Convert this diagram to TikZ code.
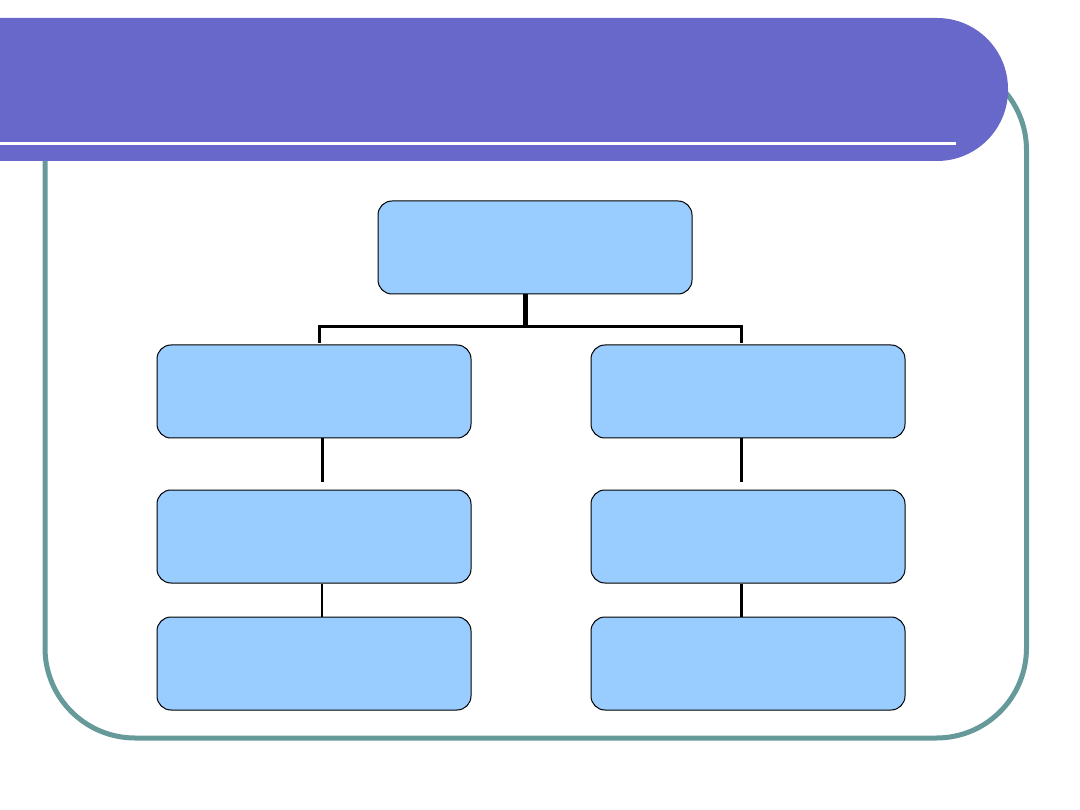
\documentclass[tikz,border=0pt]{standalone}
\usetikzlibrary{calc}
\definecolor{bannerc}{HTML}{6868CB}
\definecolor{framec}{HTML}{669999}
\definecolor{boxc}{HTML}{99CCFF}
\tikzset{
  boxn/.style={draw=black, line width=1pt, fill=boxc, rounded corners=14pt,
    minimum width=314pt, minimum height=93pt, inner sep=0pt},
  conn/.style={draw=black, line width=3pt},
  connthick/.style={draw=black, line width=5pt}
}
\begin{document}
\begin{tikzpicture}[x=1pt,y=-1pt]
\useasboundingbox (0,0) rectangle (1080,810);
% frame
\draw[framec, line width=5pt, rounded corners=90pt] (45,60) rectangle (1026.5,738);
% banner
\fill[bannerc] (0,18) [rounded corners=71pt] -- (1008,18) -- (1008,161) [sharp corners] -- (0,161) -- cycle;
\fill[white] (0,142.5) rectangle (956,145.5);
% boxes
\node[boxn] (top) at (535,247.5) {};
\node[boxn] (l1) at (314,391.5) {};
\node[boxn] (r1) at (748,391.5) {};
\node[boxn] (l2) at (314,536.5) {};
\node[boxn] (r2) at (748,536.5) {};
\node[boxn] (l3) at (314,663.5) {};
\node[boxn] (r3) at (748,663.5) {};
% connector coordinates
\coordinate (j) at (525,326.5);
\coordinate (jl) at (319,326.5);
\coordinate (jr) at (741.5,326.5);
\coordinate (el) at (319,342);
\coordinate (er) at (741.5,342);
\coordinate (xl) at (322.5,438);
\coordinate (xr) at (741.5,438);
\coordinate (yl) at (322.5,482);
\coordinate (yr) at (741.5,482);
\coordinate (zl) at (322,583);
\coordinate (zr) at (741,583);
% connectors
\draw[connthick] (j |- top.south) -- ($(j)+(0,2)$);
\draw[conn, line cap=rect] (el) -- (jl) -- (jr) -- (er);
\draw[conn] (xl |- l1.south) -- (yl);
\draw[conn] (xr |- r1.south) -- (yr);
\draw[black, line width=2.2pt] (zl |- l2.south) -- (zl |- l3.north);
\draw[black, line width=3pt] (zr |- r2.south) -- (zr |- r3.north);
\end{tikzpicture}
\end{document}
